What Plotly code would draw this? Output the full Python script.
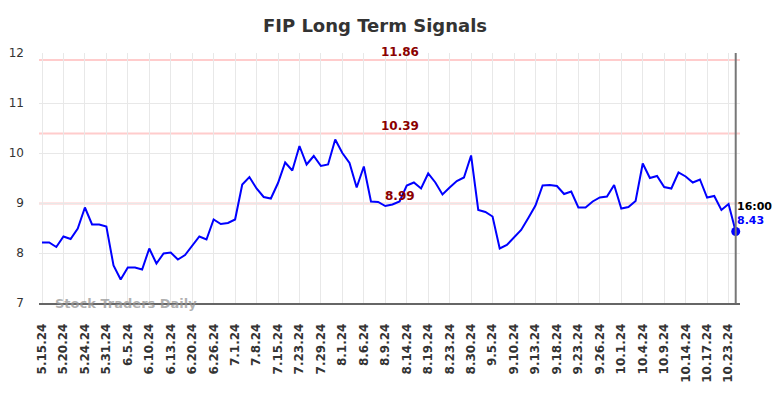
import plotly.graph_objects as go

title_text = "FIP Long Term Signals"

tick_labels = ["5.15.24", "5.20.24", "5.24.24", "5.31.24", "6.5.24", "6.10.24", "6.13.24",
               "6.20.24", "6.26.24", "7.1.24", "7.8.24", "7.15.24", "7.23.24", "7.29.24",
               "8.1.24", "8.6.24", "8.9.24", "8.14.24", "8.19.24", "8.23.24", "8.30.24",
               "9.5.24", "9.10.24", "9.13.24", "9.18.24", "9.23.24", "9.26.24", "10.1.24",
               "10.4.24", "10.9.24", "10.14.24", "10.17.24", "10.23.24"]
tick_step = 3

values = [8.21, 8.21, 8.12, 8.33, 8.28, 8.49, 8.91, 8.57, 8.57, 8.53,
          7.75, 7.47, 7.71, 7.71, 7.67, 8.09, 7.79, 7.99, 8.01, 7.87,
          7.96, 8.15, 8.33, 8.27, 8.67, 8.58, 8.60, 8.67, 9.37, 9.52,
          9.29, 9.12, 9.09, 9.40, 9.81, 9.65, 10.14, 9.77, 9.94, 9.74,
          9.77, 10.27, 10.00, 9.80, 9.31, 9.73, 9.03, 9.02, 8.94, 8.97,
          9.03, 9.35, 9.41, 9.29, 9.59, 9.41, 9.17, 9.31, 9.44, 9.51,
          9.95, 8.86, 8.82, 8.73, 8.09, 8.16, 8.31, 8.46, 8.70, 8.95,
          9.35, 9.36, 9.34, 9.18, 9.23, 8.91, 8.91, 9.03, 9.11, 9.13,
          9.36, 8.89, 8.92, 9.04, 9.79, 9.50, 9.54, 9.32, 9.29, 9.61,
          9.53, 9.41, 9.47, 9.11, 9.14, 8.86, 8.98, 8.43]

levels = [11.86, 10.39, 8.99]
level_texts = ["11.86", "10.39", "8.99"]
last_time = "16:00"
last_text = "8.43"
watermark = "Stock Traders Daily"

y_ticks = [7, 8, 9, 10, 11, 12]

FONT = "DejaVu Sans"
n = len(values)
xs = list(range(n))

fig = go.Figure()
fig.add_trace(go.Scatter(x=xs, y=values, mode="lines",
                         line=dict(color="#0000ff", width=2), hoverinfo="skip"))
fig.add_trace(go.Scatter(x=[xs[-1]], y=[values[-1]], mode="markers",
                         marker=dict(color="#0000ff", size=9), hoverinfo="skip", cliponaxis=False))

shapes = []
for lv in levels:
    shapes.append(dict(type="line", xref="paper", yref="y", x0=0, x1=1, y0=lv, y1=lv,
                       line=dict(color="#ffcccc", width=2), layer="below"))
shapes.append(dict(type="line", xref="x", yref="paper", x0=xs[-1], x1=xs[-1], y0=0, y1=1,
                   line=dict(color="#777777", width=2)))

annotations = []
for lv, t in zip(levels, level_texts):
    annotations.append(dict(x=n // 2 + 1, y=lv, xref="x", yref="y", text=t, showarrow=False,
                            yanchor="middle", yshift=8,
                            font=dict(family=FONT, size=12, color="#8b0000", weight="bold")))
annotations.append(dict(x=xs[-1], y=values[-1], xref="x", yref="y", text=last_time,
                        showarrow=False, xanchor="left", yanchor="middle", yshift=25, xshift=-1,
                        font=dict(family=FONT, size=11, color="#000000", weight="bold")))
annotations.append(dict(x=xs[-1], y=values[-1], xref="x", yref="y", text=last_text,
                        showarrow=False, xanchor="left", yanchor="middle", yshift=11, xshift=-1,
                        font=dict(family=FONT, size=11, color="#0000ff", weight="bold")))
annotations.append(dict(x=0.02, y=0, xref="paper", yref="paper", text=watermark,
                        showarrow=False, xanchor="left", yanchor="middle",
                        font=dict(family=FONT, size=13, color="rgba(150,150,150,0.75)", weight="bold")))

W, H = 776, 390
fig.update_layout(
    width=W, height=H,
    margin=dict(l=31, r=44, t=45, b=95, autoexpand=False),
    paper_bgcolor="white", plot_bgcolor="white",
    showlegend=False,
    title=dict(text=title_text, x=367 / W, xanchor="center", y=1 - 18 / H, yanchor="middle",
               font=dict(family=FONT, size=18, color="#333333", weight="bold")),
    shapes=shapes, annotations=annotations,
    xaxis=dict(range=[-0.42, n - 0.4], tickvals=xs[::tick_step][:len(tick_labels)],
               ticktext=tick_labels, tickangle=-90, showgrid=True, gridcolor="#e8e8e8",
               gridwidth=1, zeroline=False, showline=True, linecolor="#666666", linewidth=1.5,
               ticks="", ticklabelstandoff=14, automargin=False,
               tickfont=dict(family=FONT, size=12, color="#333333", weight="bold")),
    yaxis=dict(range=[7, 12], tickvals=y_ticks, showgrid=True, gridcolor="#e8e8e8",
               gridwidth=1, zeroline=False, showline=False, ticks="", ticklabelstandoff=14,
               automargin=False,
               tickfont=dict(family=FONT, size=12, color="#333333")),
)

fig.write_html("out.html")
